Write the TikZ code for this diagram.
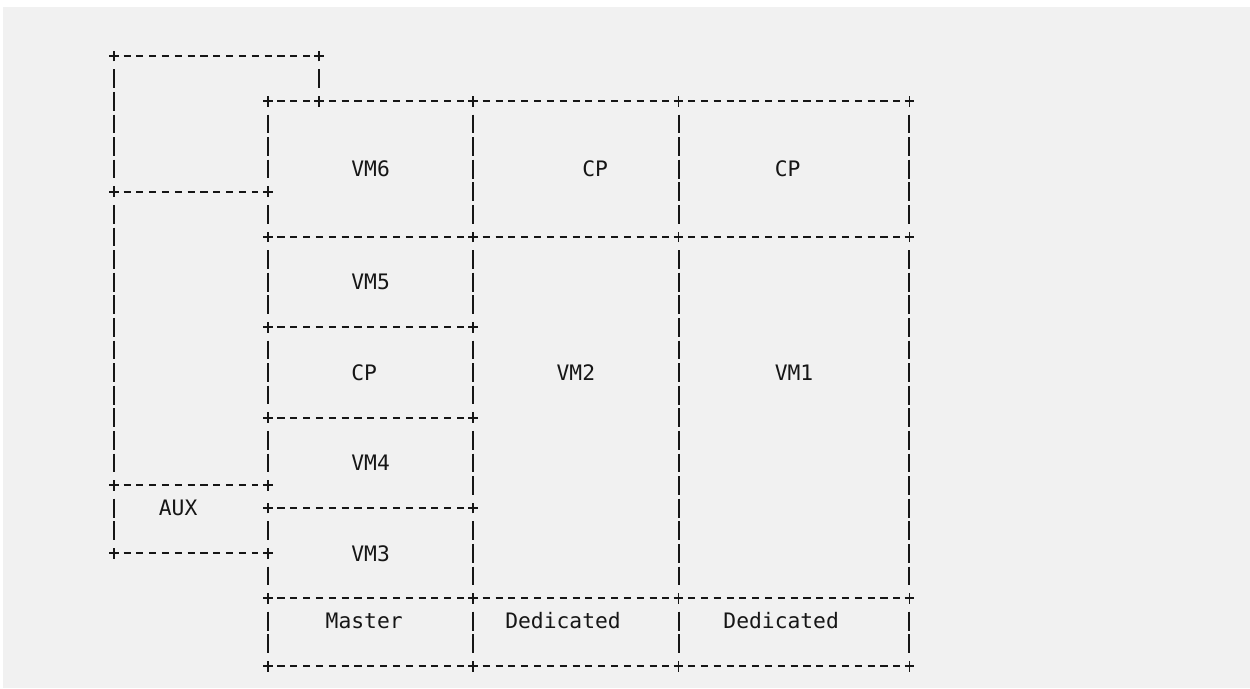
\documentclass[tikz,border=0pt]{standalone}
\usepackage{fontspec}
\setmonofont{DejaVu Sans Mono}
\definecolor{ink}{RGB}{22,22,22}
\definecolor{paper}{RGB}{241,241,241}

\begin{document}
\begin{tikzpicture}[x=12.83pt,y=-22.6pt,
		cross/.style={draw=ink,line width=1.9pt},
		corner/.style={minimum width=18.6pt,minimum height=26.2pt,inner sep=0pt,
			append after command={([xshift=-4.9pt]\tikzlastnode.center) edge[cross] ([xshift=4.9pt]\tikzlastnode.center)
				([yshift=-5.3pt]\tikzlastnode.center) edge[cross] ([yshift=5.3pt]\tikzlastnode.center)}},
		hline/.style={draw=ink,line width=1.9pt,dash pattern=on 7.06pt off 5.77pt},
		vline/.style={draw=ink,line width=2pt,dash pattern=on 18.98pt off 3.62pt},
		cell/.style={font=\fontsize{21.3}{25}\selectfont\ttfamily,text=ink,inner sep=0pt,anchor=base,yshift=-7.8pt}]
		\useasboundingbox (-114pt,56pt) rectangle (1136pt,-632pt);
		\fill[paper] (-111pt,49pt) rectangle (1136pt,-632pt);
		
		% corners of the ascii grid, row/column
		\foreach \row/\col in {0/0,0/16,2/12,2/16,2/28,2/44,2/62,6/0,6/12,8/12,8/28,8/44,8/62,
				12/12,12/28,16/12,16/28,19/0,19/12,20/12,20/28,22/0,22/12,
				24/12,24/28,24/44,24/62,27/12,27/28,27/44,27/62}
			\node[corner] (p\row-\col) at (\col,\row) {};
		
		\node[cell] (vm6)    at (20,5)    {VM6};
		\node[cell] (cpa)    at (37.5,5)  {CP};
		\node[cell] (cpb)    at (52.5,5)  {CP};
		\node[cell] (vm5)    at (20,10)   {VM5};
		\node[cell] (cpc)    at (19.5,14) {CP};
		\node[cell] (vm2)    at (36,14)   {VM2};
		\node[cell] (vm1)    at (53,14)   {VM1};
		\node[cell] (vm4)    at (20,18)   {VM4};
		\node[cell] (aux)    at (5,20)    {AUX};
		\node[cell] (vm3)    at (20,22)   {VM3};
		\node[cell] (master) at (19.5,25) {Master};
		\node[cell] (deda)   at (35,25)   {Dedicated};
		\node[cell] (dedb)   at (52,25)   {Dedicated};
		
		\foreach \a/\b in {p0-0/p0-16,p2-12/p2-16,p2-16/p2-28,p2-28/p2-44,p2-44/p2-62,p6-0/p6-12,
				p8-12/p8-28,p8-28/p8-44,p8-44/p8-62,p12-12/p12-28,p16-12/p16-28,p19-0/p19-12,
				p20-12/p20-28,p22-0/p22-12,p24-12/p24-28,p24-28/p24-44,p24-44/p24-62,
				p27-12/p27-28,p27-28/p27-44,p27-44/p27-62}
			\draw[hline] (\a.east) -- (\b.west);
		\foreach \a/\b in {p0-0/p6-0,p6-0/p19-0,p19-0/p22-0,p0-16/p2-16,
				p2-12/p6-12,p6-12/p8-12,p8-12/p12-12,p12-12/p16-12,p16-12/p19-12,p20-12/p22-12,p22-12/p24-12,p24-12/p27-12,
				p2-28/p8-28,p8-28/p12-28,p12-28/p16-28,p16-28/p20-28,p20-28/p24-28,p24-28/p27-28,
				p2-44/p8-44,p8-44/p24-44,p24-44/p27-44,p2-62/p8-62,p8-62/p24-62,p24-62/p27-62}
			\draw[vline] (\a.south) -- (\b.north);
\end{tikzpicture}
\end{document}
